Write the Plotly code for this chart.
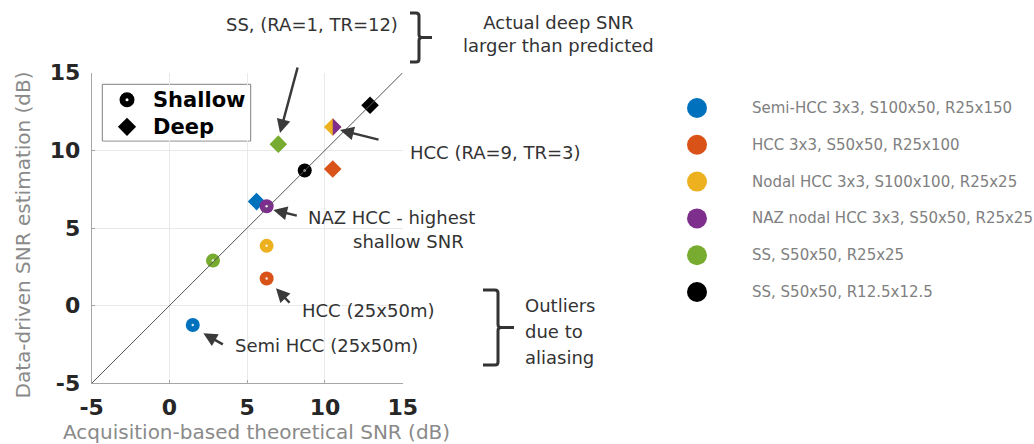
import plotly.graph_objects as go

# ---------------- data ----------------
categories = [
    "Semi-HCC 3x3, S100x50, R25x150",
    "HCC 3x3, S50x50, R25x100",
    "Nodal HCC 3x3, S100x100, R25x25",
    "NAZ nodal HCC 3x3, S50x50, R25x25",
    "SS, S50x50, R25x25",
    "SS, S50x50, R12.5x12.5",
]
colors = ["#0072BD", "#D95319", "#EDB120", "#7E2F8E", "#77AC30", "#000000"]

theory_shallow = [1.5, 6.25, 6.25, 6.25, 2.8, 8.7]
data_shallow = [-1.25, 1.75, 3.85, 6.4, 2.9, 8.7]
theory_deep = [5.6, 10.5, 10.5, 10.5, 7.0, 12.9]
data_deep = [6.7, 8.8, 11.5, 11.5, 10.4, 12.9]

depth_labels = ["Shallow", "Deep"]

axis_range = [-5, 15]
tick_vals = [-5, 0, 5, 10, 15]
tick_text = ["-5", "0", "5", "10", "15"]

# ---------------- layout helpers ----------------
W, H = 1034, 444
PL, PR, PT, PB = 91.7, 402.7, 72.7, 383.3
px_per_x = (PR - PL) / (axis_range[1] - axis_range[0])
px_per_y = (PB - PT) / (axis_range[1] - axis_range[0])


def X(p):
    return p / W


def Y(p):
    return 1 - p / H


FONT = "DejaVu Sans"
TXT = "#333333"
CIRCLE = 14
DIAMOND = 13.5

fig = go.Figure()

# deep points (diamonds)
half_w = DIAMOND / 2 * 1.3 / px_per_x
half_h = DIAMOND / 2 * 1.3 / px_per_y
for i, cat in enumerate(categories):
    shared = any(theory_deep[j] == theory_deep[i] and data_deep[j] == data_deep[i] for j in range(i))
    x0, y0 = theory_deep[i], data_deep[i]
    if shared:
        # coincident with an earlier point: fill the right half of the diamond
        fig.add_trace(go.Scatter(
            x=[x0, x0 + half_w, x0, x0], y=[y0 + half_h, y0, y0 - half_h, y0 + half_h],
            mode="lines", fill="toself", fillcolor=colors[i], line=dict(width=0, color=colors[i]),
            name=cat + " (deep)", showlegend=False, hoverinfo="skip"))
    else:
        fig.add_trace(go.Scatter(
            x=[x0], y=[y0], mode="markers",
            name=cat + " (deep)", showlegend=False,
            marker=dict(symbol="diamond", size=DIAMOND, color=colors[i], line=dict(width=0))))

# shallow points (circles)
for i, cat in enumerate(categories):
    fig.add_trace(go.Scatter(
        x=[theory_shallow[i]], y=[data_shallow[i]], mode="markers",
        name=cat + " (shallow)", showlegend=False,
        marker=dict(symbol="circle", size=CIRCLE, color=colors[i], line=dict(width=0))))
fig.add_trace(go.Scatter(x=theory_shallow, y=data_shallow, mode="markers", showlegend=False,
                         hoverinfo="skip",
                         marker=dict(size=2.5, color="rgba(255,255,255,0.85)")))

# identity line
fig.add_trace(go.Scatter(x=axis_range, y=axis_range, mode="lines", showlegend=False,
                         line=dict(color="#555555", width=1), hoverinfo="skip"))

# right-hand colour key
for i, cat in enumerate(categories):
    fig.add_trace(go.Scatter(x=[17], y=[i], mode="markers", xaxis="x2", yaxis="y2",
                             name=cat, showlegend=False, hoverinfo="skip",
                             marker=dict(size=20, color=colors[i], line=dict(width=0))))

# Shallow / Deep key (own small axes)
fig.add_trace(go.Scatter(x=[0], y=[0], mode="markers", xaxis="x3", yaxis="y3", name=depth_labels[0],
                         showlegend=False, marker=dict(symbol="circle", size=15, color="black")))
fig.add_trace(go.Scatter(x=[0], y=[1], mode="markers", xaxis="x3", yaxis="y3", name=depth_labels[1],
                         showlegend=False, marker=dict(symbol="diamond", size=14, color="black")))
fig.add_trace(go.Scatter(x=[0], y=[0], mode="markers", xaxis="x3", yaxis="y3", hoverinfo="skip",
                         showlegend=False, marker=dict(size=3, color="white")))

annotations = []
for i, cat in enumerate(categories):
    annotations.append(dict(x=70, y=i, xref="x2", yref="y2", text=cat, showarrow=False,
                            xanchor="left", yanchor="middle",
                            font=dict(family=FONT, size=15, color="#808080")))
for i, lab in enumerate(depth_labels):
    annotations.append(dict(x=24, y=i, xref="x3", yref="y3", text=lab, showarrow=False,
                            xanchor="left", yanchor="middle",
                            font=dict(family=FONT, size=21, color="black", weight="bold")))

# axis titles
annotations.append(dict(x=X(256), y=Y(432), xref="paper", yref="paper", showarrow=False,
                        text="Acquisition-based theoretical SNR (dB)", xanchor="center", yanchor="middle",
                        font=dict(family=FONT, size=20, color="#8a8a8a")))
annotations.append(dict(x=X(23), y=Y(235.5), xref="paper", yref="paper", showarrow=False,
                        text="Data-driven SNR estimation (dB)", textangle=-90,
                        xanchor="center", yanchor="middle",
                        font=dict(family=FONT, size=20, color="#8a8a8a")))

# text labels
labels = [
    ("SS, (RA=1, TR=12)", 312, 25, "center"),
    ("Actual deep SNR<br>larger than predicted", 558, 33.5, "center"),
    ("HCC (RA=9, TR=3)", 408, 153, "left"),
    ("NAZ HCC - highest", 306, 217, "left"),
    ("shallow SNR", 351, 241, "left"),
    ("HCC (25x50m)", 300, 310, "left"),
    ("Semi HCC (25x50m)", 233, 345, "left"),
    ("Outliers", 523, 305, "left"),
    ("due to", 523, 331.5, "left"),
    ("aliasing", 523, 357, "left"),
]
for t, x, y, anc in labels:
    annotations.append(dict(x=X(x), y=Y(y), xref="paper", yref="paper", text=t, showarrow=False,
                            xanchor=anc, yanchor="middle", align=anc,
                            font=dict(family=FONT, size=18, color=TXT)))

# arrows (head in data coords, tail offset in px)
arrows = [
    (7.11, 11.12, 18, -67),
    (10.97, 11.31, 40, 10),
    (6.68, 6.16, 25, 6),
    (6.85, 1.12, 15, 16),
    (2.18, -1.78, 21, 12),
]
for hx, hy, ax, ay in arrows:
    annotations.append(dict(x=hx, y=hy, xref="x", yref="y", ax=ax, ay=ay, text="",
                            showarrow=True, arrowhead=2, arrowsize=1.1, arrowwidth=2.5,
                            arrowcolor="#3a3a3a", standoff=0))


def brace(x0, xv, xt, y0, y1, r=3):
    ym = (y0 + y1) / 2
    pts = [
        f"M {X(x0)},{Y(y0)}", f"L {X(xv - r)},{Y(y0)}",
        f"Q {X(xv)},{Y(y0)} {X(xv)},{Y(y0 + r)}", f"L {X(xv)},{Y(ym - r)}",
        f"Q {X(xv)},{Y(ym)} {X(xv + r)},{Y(ym)}", f"L {X(xt)},{Y(ym)}",
        f"M {X(xv + r)},{Y(ym)}", f"Q {X(xv)},{Y(ym)} {X(xv)},{Y(ym + r)}",
        f"L {X(xv)},{Y(y1 - r)}", f"Q {X(xv)},{Y(y1)} {X(xv - r)},{Y(y1)}",
        f"L {X(x0)},{Y(y1)}",
    ]
    return dict(type="path", xref="paper", yref="paper", path=" ".join(pts),
                line=dict(color="#333333", width=3))


shapes = [
    dict(type="rect", xref="paper", yref="paper", x0=X(102.3), x1=X(250.7), y0=Y(141), y1=Y(84.3),
         line=dict(color="#7f7f7f", width=1), fillcolor="white", layer="below"),
    brace(410, 419, 432, 13, 62), brace(483, 498, 514, 290, 365),
]

axis_common = dict(range=axis_range, tickvals=tick_vals, ticktext=tick_text,
                   showgrid=True, gridcolor="#e9e9e9", gridwidth=1,
                   zeroline=False, showline=True, linecolor="#a6a6a6", linewidth=1,
                   ticks="inside", ticklen=3, tickcolor="#a6a6a6",
                   tickfont=dict(family=FONT, size=22, color="#262626", weight="bold"),
                   fixedrange=True, automargin=False)

fig.update_layout(
    width=W, height=H,
    margin=dict(l=0, r=0, t=0, b=0, pad=0, autoexpand=False),
    paper_bgcolor="white", plot_bgcolor="white",
    xaxis=dict(domain=[X(PL), X(PR)], ticklabelstandoff=4, **axis_common),
    yaxis=dict(domain=[Y(PB), Y(PT)], ticklabelstandoff=6, **axis_common),
    xaxis2=dict(domain=[X(680), 1.0], range=[0, 354], visible=False, anchor="y2"),
    yaxis2=dict(domain=[Y(310.4), Y(89.6)], range=[5.5, -0.5], visible=False, anchor="x2"),
    xaxis3=dict(domain=[X(103), X(250)], range=[-24, 123], visible=False, anchor="y3"),
    yaxis3=dict(domain=[Y(140.3), Y(86.3)], range=[1.5, -0.5], visible=False, anchor="x3"),
    showlegend=False,
    annotations=annotations,
    shapes=shapes,
)

fig.write_html("out.html")
